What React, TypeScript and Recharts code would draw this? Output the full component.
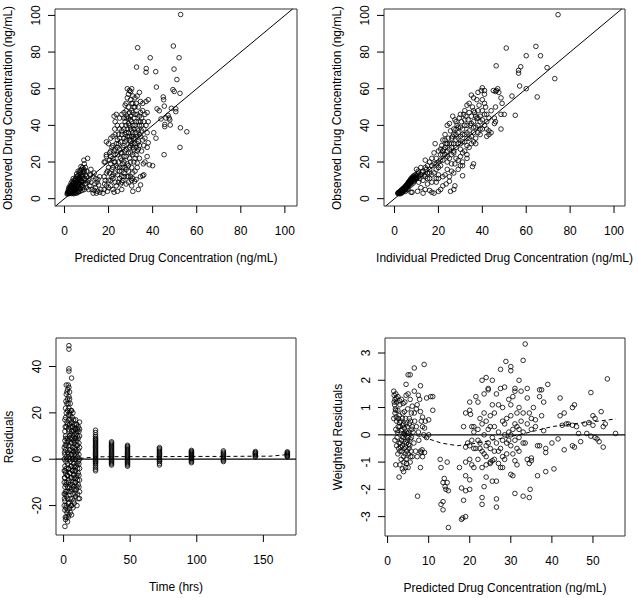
import React from "react";
import { ScatterChart, Scatter, XAxis, YAxis, ReferenceArea, ReferenceLine } from "recharts";

type Pt = [number, number];

// top left: population predicted vs observed
const predObs: Pt[] = [
  [52.7, 100.5], [33.2, 82.4], [49.4, 83.3], [38.9, 76.9], [52, 76.9], [32.7, 71.8], [37.1, 71], [37, 69],
  [41.4, 69.3], [49.7, 70.7], [51, 65], [41.7, 60.9], [49.2, 59.5], [49.8, 58.5], [52.4, 57.5], [44.8, 55.5],
  [45, 54], [45.3, 50.5], [48.5, 49.3], [50.5, 49], [50.5, 47.5], [47, 45.5], [47.5, 44], [46, 44], [43.8, 43.5],
  [45.5, 40.5], [45.5, 39.3], [48, 40.2], [47.8, 43], [52.6, 38.7], [55.5, 36.5], [52.4, 28], [45.2, 24],
  [40.5, 36], [41.5, 33], [42, 49], [43, 48], [40, 18], [38.5, 18.5], [37.5, 23], [36.5, 20], [35.8, 19],
  [37.5, 28], [38, 30.5], [35.5, 12.5], [36, 13], [34.5, 12], [33.5, 5], [34.5, 7.5], [31, 4], [31.8, 9.5],
  [32.5, 10.5], [30.5, 10], [33, 19.5], [34, 22],
  [1.5, 3], [1.8, 4], [2, 3.5], [2.2, 5], [2.5, 4.2], [2.6, 6], [2.8, 3.2], [3, 4.8], [3.1, 7], [3.3, 5.5],
  [3.5, 3.8], [3.6, 6.5], [3.8, 8], [4, 4.5], [4.1, 5.8], [4.3, 9], [4.5, 7], [4.6, 3.5], [4.8, 6], [5, 10],
  [5.2, 8], [5.3, 5], [5.5, 12], [5.7, 7.5], [5.9, 4], [6, 9.5], [6.2, 11], [6.4, 6.5], [6.6, 13], [6.8, 8.5],
  [7, 10.5], [7.2, 5.5], [7.4, 14], [7.6, 12], [7.8, 16], [8, 9], [8.2, 17], [8.5, 11], [8.8, 21], [9, 19],
  [9.5, 13], [10.5, 22], [2.3, 2.8], [3.9, 3], [5, 3.2], [6.5, 4], [7.5, 7], [8.5, 6], [9, 15], [9.6, 10],
  [10, 12], [11, 10], [11.5, 7], [12, 13], [12.5, 5], [13, 3], [13.5, 4.5], [13.8, 8], [14.2, 11], [14.8, 9],
  [15.5, 7.5], [16, 12], [16.5, 5], [12, 9], [13, 12], [14.5, 3],
  [1.2, 2.5], [1.4, 3.5], [1.6, 2.8], [1.9, 3], [2.1, 4.2], [2.4, 3.3], [2.7, 4.8], [2.9, 5.6], [3.2, 3.5],
  [3.4, 4.3], [3.7, 5], [3.9, 6], [4.2, 3.8], [4.4, 5.2], [4.7, 4.5], [4.9, 8], [5.1, 6.8], [5.4, 9], [5.6, 5.8],
  [5.8, 10.5], [6.1, 7], [6.3, 8.3], [6.5, 10], [6.7, 5.2], [6.9, 11.5], [7.1, 7.8], [7.3, 9.2], [7.7, 10],
  [7.9, 13], [8.1, 7.5], [8.3, 12.5], [8.7, 14.5], [9.2, 11], [3.5, 7.5], [4, 8.5], [4.5, 10], [5, 11], [6, 12.5],
  [6.8, 14.5], [7.2, 15.5], [2, 6], [2.5, 7], [3, 8.5], [3.5, 9.5], [4, 11], [5.5, 13.5], [6.2, 15], [7.5, 17.5],
  [8.8, 16], [9.5, 17], [10, 15], [1.8, 5], [2.8, 6.5], [3.3, 2.8], [4.2, 2.7], [5.5, 3], [6.2, 3.5], [7, 4],
  [8, 4.5], [9, 5], [10, 6], [11, 5], [9.5, 8], [10.5, 9], [11.5, 13], [12, 16], [13.5, 14], [14, 6], [15, 4],
  [16, 3.5], [15.2, 10.5],
  [17.5, 3], [18, 5], [18.5, 10], [19, 14], [18, 20], [19, 24], [19, 31], [20, 30],
  [18, 12], [18.5, 20], [19, 23], [19.5, 15], [20.5, 25], [21, 19], [21.5, 28], [18.2, 8], [20, 10], [21, 7],
  [22, 5], [22.5, 3.5], [19.5, 4], [20.5, 14], [21.5, 12], [22, 22], [22.5, 26], [21, 33], [22, 34], [22.5, 45],
  [23.5, 46], [23, 42], [22.8, 38], [23.5, 30], [24, 24], [24.5, 20], [24, 17], [23, 14], [24, 13], [25, 11],
  [24.5, 9], [23.5, 7], [25.5, 8], [26, 12], [26, 15], [26.5, 19], [25.5, 22], [25, 27], [25.5, 31], [26, 35],
  [26, 40], [27, 44], [27.5, 51], [28, 52], [28.5, 60], [29.5, 59], [30, 58.5], [30.5, 60], [29, 57], [28.5, 55],
  [30, 54], [31, 56], [32, 55], [33, 56], [34, 58], [34.5, 53], [33.5, 50], [32.5, 52], [31.5, 50], [30.5, 48],
  [29.5, 47], [28.5, 45], [27.5, 42], [27, 38], [27.5, 35], [28, 32], [27, 29], [27.5, 26], [28, 23], [27, 20],
  [26.5, 17], [27, 14], [26.5, 10], [28, 8], [28.5, 12], [29, 15], [29, 18], [29.5, 22], [30, 25], [29.5, 28],
  [30, 31], [30.5, 34], [29, 36], [30, 38], [31, 40], [30.5, 42], [31.5, 44], [32, 46], [31, 36], [31.5, 33],
  [32, 30], [32.5, 28], [33, 26], [31, 24], [32, 22], [31.5, 20], [30.5, 17], [31, 14], [30, 12], [29, 9],
  [30.5, 7], [32, 40], [33, 38], [33.5, 42], [34, 45], [34.5, 47], [35, 44], [34, 40], [35, 37], [34.5, 34],
  [35.5, 32], [34, 29], [35, 26], [36, 29], [36.5, 33], [36, 38], [36, 42], [35.5, 48], [35.5, 52], [36.5, 46],
  [37.5, 47], [37, 40], [37.5, 36], [38, 42], [37, 53], [38, 54], [33, 34], [33.5, 31], [32.5, 36], [24, 40],
  [23, 35], [25, 38], [26, 25], [24.5, 30], [25, 44], [26, 46], [28, 40], [29, 44], [29, 50], [31, 52], [33, 46],
  [23, 27], [22, 17], [21, 23], [20, 17], [27, 33], [28.5, 38], [28, 48],
  [20.5, 21], [21, 26], [21.5, 16], [22, 29], [22.5, 20], [23, 24], [23.5, 18], [24, 28], [24.5, 35], [25, 17],
  [25.5, 25], [26, 21], [26.5, 28], [27, 23], [27.5, 31], [28, 27], [28.5, 34], [29, 25], [29.5, 32], [30, 29],
  [30.5, 37], [31, 28], [31.5, 38], [32, 33], [32.5, 42], [33, 30], [33.5, 37], [34, 35], [34.5, 42], [35, 40],
  [29, 41], [30, 45], [30.5, 52], [31, 47], [32, 50], [28, 44], [27, 47], [26, 37], [25, 33], [24, 32], [23, 20],
  [22, 13], [21, 10], [20, 6], [19, 7], [25, 15], [26, 9], [27, 12], [28, 16], [29, 12], [31, 11], [32, 15],
  [33, 17], [30, 20], [28.5, 19], [27.5, 17], [26, 5], [24, 4], [23, 9], [22, 11], [29.5, 40], [30, 43], [31, 34],
  [30.5, 30], [31.5, 27], [32.5, 24], [33.5, 27], [28, 36], [29.5, 34],
];

// top right: individual predicted vs observed
const ipredObs: Pt[] = [
  [74.5, 100.4], [50.9, 82.2], [64.4, 83.1], [46.3, 72.5], [60, 78], [66.5, 78], [57.5, 72], [56.5, 70],
  [56.5, 68.5], [69.5, 71.5], [73, 65.5], [57, 61.5], [60, 60], [65, 55.5], [53.5, 56], [55, 45.5], [50, 46],
  [48.5, 46], [48.5, 38], [49, 52], [48.5, 55], [47.5, 58], [46.5, 59], [46, 58.5], [45, 59], [47, 60],
  [46, 50], [45.5, 41], [46, 42], [45.5, 44], [44, 36], [43, 37], [42, 34], [41.5, 50], [41, 57], [41, 59],
  [40, 60.5], [39.5, 59], [38, 58], [37.5, 54], [36, 55], [35, 56.5], [33, 51],
  [36, 19], [35.5, 17.5], [31, 12.5], [31, 18], [27, 5], [27.5, 7], [25.5, 4], [25, 9.5], [23.5, 8], [22, 7],
  [21, 5], [20, 4], [18, 3], [17, 3.5], [16, 4.5], [14, 5], [13, 3], [12, 6], [10.5, 4], [8, 3.5], [15, 8],
  [17, 9], [19, 11], [20, 13], [23, 13], [24, 16], [26, 15], [26, 19], [27.5, 19], [29, 21], [30, 23], [31, 20],
  [33, 22], [33, 24],
  [8, 10], [9, 12], [10, 11], [10, 16], [11, 14], [12, 13], [12, 17], [13, 15], [14, 21], [14, 12], [15, 18],
  [15, 14], [16, 20], [16, 16], [17, 22], [17, 13], [18, 19], [18, 25], [18.5, 30], [19, 16], [19, 22], [20, 20],
  [20, 26], [21, 24], [21, 18], [21.5, 29], [22, 21], [22, 32], [22.5, 27], [23, 35], [23, 24], [23.5, 30],
  [24, 40], [24, 26], [24.5, 33], [25, 41], [25, 22], [25.5, 37], [26, 30], [26, 28], [26.5, 45], [26.5, 34],
  [27, 38], [27, 25], [27.5, 43], [28, 32], [28, 28], [28.5, 40], [29, 36], [29, 30], [29.5, 44], [30, 34],
  [30, 27], [30.5, 42], [31, 38], [31, 31], [31.5, 46], [32, 40], [32, 35], [32.5, 45], [33, 36], [33, 29],
  [33.5, 43], [34, 47], [34, 33], [34.5, 40], [35, 45], [35, 30], [35.5, 50], [36, 42], [36, 36], [36.5, 47],
  [37, 30], [37.5, 44], [38, 48], [38, 40], [38.5, 51], [39, 45], [39, 38], [40, 48], [40, 43], [41, 52],
  [41, 40], [42, 46], [43, 35], [30, 18], [28, 22], [27, 26], [24, 20], [22, 12], [20, 11], [19, 9], [16, 11],
  [25, 12], [27, 14], [29, 16], [32, 26], [34, 28], [36, 31], [37, 33], [39, 35],
  [11, 9], [13, 10], [14, 17], [15, 11], [16, 14], [17, 18], [18, 14], [19, 19], [20, 17], [21, 21], [22, 26],
  [23, 28], [24, 23], [25, 30], [26, 33], [27, 30], [28, 35], [29, 33], [30, 39], [31, 35], [32, 43], [33, 40],
  [34, 37], [35, 41], [36, 48], [37, 39], [38, 44], [39, 42], [40, 54], [41, 46], [42, 42], [29, 39], [28, 42],
  [27, 35], [26, 24], [25, 27], [24, 30], [23, 32], [22, 24], [21, 27], [30, 30], [31, 25], [32, 31], [33, 33],
  [35, 34], [36, 39], [37, 45], [38, 36], [40, 38], [42, 38], [43, 44], [44, 48], [34, 52], [32, 48], [30, 46],
  [28, 38],
  [1.5, 3], [2, 3.2], [2.3, 3.5], [2.6, 4], [3, 3.8], [3.2, 4.5], [3.5, 5], [3.8, 4.6], [4, 5.5], [4.3, 6],
  [4.6, 5.8], [5, 6.5], [5.3, 7.2], [5.6, 7], [6, 8], [6.3, 8.5], [6.6, 9], [7, 9.5], [7.3, 10], [7.6, 10.5],
  [8, 11], [2.8, 2.8], [3.5, 3.2], [4.5, 4.3], [5.5, 5.3], [6.5, 6.5], [7.5, 7.5], [8.5, 8.5], [9, 9.5],
  [9.5, 10.5], [10, 12.5], [11, 12], [7.5, 3.5], [6, 5], [5, 4],
  [1.6, 2.8], [1.8, 3.4], [2.1, 3.1], [2.4, 3.9], [2.7, 3.3], [2.9, 4.3], [3.1, 3.4], [3.3, 4.9], [3.6, 4.1],
  [3.9, 5.3], [4.1, 4.4], [4.4, 5.5], [4.7, 6.4], [4.9, 5.1], [5.1, 7], [5.4, 6], [5.7, 7.8], [5.9, 6.7],
  [6.2, 8.8], [6.4, 7.3], [6.7, 9.5], [6.9, 8.2], [7.2, 10.5], [7.4, 8.8], [7.7, 11.2], [7.9, 9.4], [8.2, 11.8],
  [8.4, 10], [8.7, 12.4], [9.1, 11], [9.4, 13], [9.8, 11.8], [10.3, 13.5], [10.8, 15], [11.5, 11], [12.5, 14.5],
  [13.5, 13], [14.5, 16], [5, 5.8], [6, 7.2], [7, 8.3], [4, 4.8], [3, 4.1], [2.2, 2.7], [2.5, 3.6], [3.4, 3.9],
  [4.2, 5.1], [5.2, 6.4], [6.1, 7.6], [6.8, 8.8], [7.5, 9.9], [8, 10.5], [8.8, 11.4],
];

// bottom left: time vs residuals
const timeRes: Pt[] = [
  [0.5, -5], [0.5, -10], [0.5, -15], [0.5, 0], [0.5, -20], [0.5, 5],
  [1, -29], [1, -22], [1, -18], [1, -12], [1, -8], [1, -3], [1, 2], [1, 8], [1, 17], [1, 12],
  [1.5, -26], [1.5, -14], [1.5, -6], [1.5, 4], [1.5, 10], [1.5, 22], [1.5, 18],
  [2, -25], [2, -20], [2, -16], [2, -10], [2, -4], [2, 1], [2, 6], [2, 14], [2, 20], [2, 28], [2, 32],
  [3, -27], [3, -22], [3, -17], [3, -12], [3, -7], [3, -2], [3, 3], [3, 9], [3, 15], [3, 21], [3, 26], [3, 30],
  [4, 49], [4, 47.5], [4, 39], [4, 38], [4, -24], [4, -19], [4, -14], [4, -9], [4, -4], [4, 1], [4, 6], [4, 12],
  [4, 17], [4, 22], [4, 27], [4, 31],
  [5, -23], [5, -17], [5, -11], [5, -6], [5, -1], [5, 4], [5, 9], [5, 14], [5, 19], [5, 24],
  [6, 35], [6, -24], [6, -20], [6, -13], [6, -8], [6, -3], [6, 2], [6, 7], [6, 12], [6, 16], [6, 21],
  [7, -21], [7, -15], [7, -10], [7, -5], [7, 0], [7, 5], [7, 10], [7, 14], [7, 20],
  [8, -19], [8, -13], [8, -8], [8, -3], [8, 2], [8, 7], [8, 11], [8, 15],
  [9, -16], [9, -10], [9, -5], [9, 0], [9, 4], [9, 9], [9, 13], [9, 17],
  [10, -20], [10, -12], [10, -7], [10, -2], [10, 3], [10, 8], [10, 12], [10, 15],
  [11, -17], [11, -11], [11, -6], [11, -1], [11, 4], [11, 9], [11, 14],
  [12, -14], [12, -9], [12, -4], [12, 0], [12, 5], [12, 10], [12, 16],
  [0.75, -8], [0.75, -17], [0.75, 3], [1.25, -25], [1.25, -15], [1.25, -5], [1.25, 6], [1.25, 14], [1.75, -21],
  [1.75, -11], [1.75, -1], [1.75, 9], [1.75, 25], [2.5, -23], [2.5, -14], [2.5, -7], [2.5, 0], [2.5, 7],
  [2.5, 16], [2.5, 24], [2.5, 29], [3.5, -25], [3.5, -19], [3.5, -10], [3.5, -4], [3.5, 2], [3.5, 8], [3.5, 13],
  [3.5, 19], [3.5, 24], [3.5, 32], [4.5, -21], [4.5, -12], [4.5, -6], [4.5, 0], [4.5, 4], [4.5, 10], [4.5, 15],
  [4.5, 20], [4.5, 26], [4.5, 29], [5.5, -20], [5.5, -14], [5.5, -8], [5.5, -3], [5.5, 2], [5.5, 7], [5.5, 11],
  [5.5, 17], [5.5, 21], [6.5, -17], [6.5, -11], [6.5, -5], [6.5, 0], [6.5, 4], [6.5, 9], [6.5, 14], [6.5, 18],
  [7.5, -18], [7.5, -12], [7.5, -7], [7.5, -2], [7.5, 3], [7.5, 8], [7.5, 12], [7.5, 17], [8.5, -15],
  [8.5, -10], [8.5, -5], [8.5, 0], [8.5, 5], [8.5, 9], [8.5, 13], [9.5, -13], [9.5, -8], [9.5, -3], [9.5, 2],
  [9.5, 6], [9.5, 11], [9.5, 15], [10.5, -15], [10.5, -9], [10.5, -4], [10.5, 1], [10.5, 6], [10.5, 10],
  [10.5, 13], [11.5, -12], [11.5, -7], [11.5, -2], [11.5, 2], [11.5, 7], [11.5, 12], [12, -17], [12, 13],
  [24, -5], [24, -3.5], [24, -2], [24, -1], [24, 0], [24, 1], [24, 2], [24, 3], [24, 4], [24, 5], [24, 6],
  [24, 7], [24, 8], [24, 9], [24, 10.5], [24, 12.5], [24, -4.3], [24, -2.7], [24, -1.5], [24, -0.5], [24, 0.5],
  [24, 1.5], [24, 2.5], [24, 3.5], [24, 4.5], [24, 5.5], [24, 6.5], [24, 7.5], [24, 8.5], [24, 9.7], [24, 11.5],
  [36, -2.5], [36, -1.5], [36, -0.5], [36, 0.5], [36, 1.5], [36, 2.5], [36, 3.5], [36, 4.5], [36, 5.5],
  [36, 6.5], [36, 7.5], [36, -2], [36, -1], [36, 0], [36, 1], [36, 2], [36, 3], [36, 4], [36, 5], [36, 6], [36, 7],
  [48, -3], [48, -2], [48, -1], [48, 0], [48, 1], [48, 2], [48, 3], [48, 4], [48, 5], [48, 6], [48, -2.5],
  [48, -1.5], [48, -0.5], [48, 0.5], [48, 1.5], [48, 2.5], [48, 3.5], [48, 4.5], [48, 5.5],
  [72, -2.5], [72, -1], [72, 0], [72, 1], [72, 2], [72, 3], [72, 4], [72, 5], [72, -1.8], [72, -0.5], [72, 0.5],
  [72, 1.5], [72, 2.5], [72, 3.5], [72, 4.5],
  [96, -1.5], [96, -0.5], [96, 0.3], [96, 1], [96, 1.7], [96, 2.4], [96, 3], [96, 3.8], [96, -1], [96, 0],
  [96, 0.7], [96, 1.4], [96, 2], [96, 2.7], [96, 3.4],
  [120, -1], [120, 0], [120, 1], [120, 2], [120, 3], [120, 3.6], [120, -0.5], [120, 0.5], [120, 1.5], [120, 2.5],
  [144, 1], [144, 1.8], [144, 2.5], [144, 3.3], [144, 1.4], [144, 2.2], [144, 2.9],
  [168, 1], [168, 1.6], [168, 2.2], [168, 2.8], [168, 3.2], [168, 1.3], [168, 1.9], [168, 2.5],
];
const resSmooth: Pt[] = [
  [12, 0.3], [24, 1], [36, 1.1], [48, 1.1], [72, 1.1], [96, 1.2], [120, 1.2], [144, 1.3], [155, 1.3], [168, 2],
];

// bottom right: predicted vs weighted residuals
const predWres: Pt[] = [
  [33.5, 3.33], [33, 2.73], [28.8, 2.69], [30, 2.5], [30, 2.35], [27.5, 2.4], [8.9, 2.58], [6.5, 2.45],
  [5.5, 2.2], [5, 2.2], [4.5, 1.85], [8, 1.8], [24, 2.1], [23, 2], [25.5, 2], [32, 2], [39, 1.85], [53.5, 2.05],
  [49.5, 1.55], [37, 1.65], [34, 1.7], [31, 1.7], [28.5, 1.75], [24.5, 1.65], [21.5, 1.4], [10.5, 1.4],
  [9.5, 1.35], [20, 1.2], [22, 1.2],
  [1.5, 1.6], [1.6, 1.45], [1.8, 1.3], [2, 1.5], [2.2, 1.2], [1.7, 1.1], [2.5, 1.4], [1.5, 0.6], [1.8, 0.8],
  [2.2, 0.5], [2.5, 0.9], [2, 0.2], [2.3, -0.1], [2.6, 0.3], [2.8, 0.7], [3, 1.1], [3.2, 0.5], [3.4, -0.2],
  [3.5, 0.2], [3.7, 0.8], [3.9, 0.4], [4, -0.5], [4.2, 0], [4.4, 0.6], [4.6, -0.3], [4.8, 0.3], [5, -0.7],
  [5.2, 0.1], [5.4, -0.4], [5.6, 0.5], [5.8, -0.1], [6, 0.3], [3, -0.6], [3.3, -0.9], [3.6, -0.4], [4, -1],
  [4.3, -0.7], [4.5, -0.9], [2.5, -0.7], [2.8, -0.3], [3.8, -0.1], [4.8, -0.2], [5.2, -0.5], [2.2, -0.4],
  [1.8, -0.2], [2, 0.9], [3, 0.3], [4.2, 1.2], [4.5, 1.45], [5, 1.5], [5.5, 1.3], [3.8, 1.15], [5.8, 0.8],
  [6.2, 0.1], [6.5, 0.8], [7, 0.95], [7.2, 1.1], [7.5, 1.45], [7, 0.3], [7.5, 0.1], [8, 0.85], [8.5, 0.3],
  [9, 0.25], [10, 0.55], [11, 0.9], [11, 1.4], [6.8, -0.6], [7.2, -0.8], [8, -0.6], [8.2, -0.65],
  [8.4, -0.55], [6, -0.8], [5.5, -1], [5, -1.2], [4.6, -1.05], [3.6, -1.25], [7.3, -2.25], [2.8, -1.55],
  [2, -1.1], [3, -1.1], [8, -1.2], [9.5, -0.1], [8.8, 0], [10, 0],
  [1.6, 1.2], [1.9, 0.95], [2.1, 0.65], [2.4, 0.1], [2.7, -0.5], [2.9, 0.45], [3.1, -0.3], [3.3, 0.15],
  [3.5, -0.6], [3.7, 0.35], [3.9, -0.8], [4.1, 0.25], [4.3, -0.25], [4.5, 0.4], [4.7, -0.6], [4.9, 0.05],
  [5.1, -0.35], [5.3, 0.6], [5.5, -0.15], [5.7, -0.6], [5.9, 0.2], [4, 0.05], [3.6, -0.05], [4.6, 0.1],
  [5, -0.1], [4.4, -0.45], [3.2, -0.45], [2.6, 0.6], [2.1, 1.35], [2.9, 1.25], [3.4, 1.3], [3.6, 0.6],
  [4.1, 0.85], [4.9, 0.95], [5.3, 0.4], [6.4, -0.3], [6.6, 0.5], [7.6, -0.2], [8.2, 0.5], [9.2, 0.5],
  [3.9, -1.35], [4.4, -1.2], [5.6, -0.8], [6, 1.05], [6.5, 1.6], [7.8, 1.3], [8.5, 0.65], [9, -0.65], [8.5, -0.8],
  [12.8, -0.9], [13, -1.2], [13.5, -1.75], [13.8, -1.6], [14, -1.9], [14.2, -2], [14.5, -1.75], [14.8, -2.05],
  [13, -2.55], [13.5, -2.45], [13.5, -2.75], [14.8, -3.4], [14.5, -1],
  [17.5, -1.2], [18, -1.95], [18, -3.1], [18.3, -3.05], [19, -3], [18.5, -2.4], [19, -2.05], [20, -2],
  [19, -1.5], [20, -1.65], [19, -1], [20.5, -1.1], [19.5, -0.3], [18.5, 0.3], [19, 0.8], [20, 0.9],
  [20.2, 0.75], [21, 0.3], [21, -0.5], [22, -0.2], [22.5, -0.5],
  [23, -2.3], [23, -2.55], [23.5, -1.9], [24, -1.55], [25.5, -1.7], [26.5, -1.7], [26.5, -2.35], [26.5, -2.65],
  [24, -1.1], [25, -1], [25.5, -0.95], [26, -0.6], [23, -1.2], [23.5, -0.7], [24.5, -0.3], [25, 0.3],
  [25.5, 1.1], [24, 0.5], [23, 0.4], [23.5, 1.5],
  [31, -2.15], [33, -2.25], [34.5, -2.3], [34.7, -2], [30, -1.45], [30.5, -1.5], [31.5, -1.1], [31, -0.95],
  [28.5, -0.9], [27.5, -1.2], [28, -1.2], [27, -1.05],
  [34, 1.35], [34.5, 0.8], [35, 0.6], [35.5, 1], [36, 0.55], [36, 0.3], [36.5, -0.4], [37, -0.4], [37, 1.4],
  [37.5, 1.65], [38, 1.2], [37.5, 0.7], [38, 0.15], [38.5, -0.5], [38.5, -0.65], [36.5, -1.5], [38.5, -1.35],
  [40.5, -1.25], [35, -0.95], [35, -0.85], [34, -0.9], [34.5, -1.05],
  [40, -0.3], [41.5, -0.15], [42, 0.7], [42, 1.35], [42.5, 0.35], [43, 0.8], [43.5, 0.4], [43, -0.55],
  [44, 0.4], [45, 0.35], [45, 1], [45.5, 1.1], [45, -0.4], [45.5, -0.45], [46, 0.3], [46.5, 0.05], [47, -0.25],
  [48, 0.4], [48.5, 0.05], [49, 0.45], [49.5, -0.05], [50, 0.7], [50, 0.35], [50.5, 0.6], [50.5, -0.1],
  [51, -0.15], [51.5, -0.25], [52, 0.85], [52.5, -0.45], [52.5, 0.3], [53, 0.4], [55.5, 0.05],
  [20, -0.4], [20.5, -0.2], [21, 0.1], [21.5, -0.5], [22, 0.2], [22.5, -0.3], [23, -0.6], [23.5, 0], [24, -0.4],
  [24.5, 0.2], [25, -0.5], [25.5, -0.1], [26, 0.3], [26.5, -0.3], [27, 0.1], [27.5, -0.5], [28, -0.2],
  [28.5, 0.4], [29, -0.3], [29.5, 0.1], [30, -0.4], [30.5, 0.2], [31, -0.2], [31.5, 0.3], [32, -0.1],
  [32.5, 0.5], [33, 0.1], [33.5, -0.3], [34, 0.4], [35, 0.2], [29, 0.6], [30, 1.1], [30.5, 1.4], [31, 1.6],
  [29.5, 1.3], [28, 1], [27, 1.1], [26, 0.8], [25, 0.7], [32, 1], [33, 0.8], [32.5, 1.6], [31.5, 0.8], [30, 0.7],
  [29, -0.7], [28, -0.8], [30.5, -0.7], [31.5, -0.5], [32, -0.6], [33, -0.3], [27, -0.6], [26, -0.9],
  [25, -1.05], [24, -0.8], [22, -0.9], [21, -1.2], [20, -0.9], [19, -0.45], [20.5, 0.3], [22.5, 0.6],
  [23.5, 0.8], [24.5, 1.7], [27.5, 1.7], [28, 0.5], [26.5, 1.5], [28.5, 0], [29.5, -0.2], [30, 0], [31, 0.4],
  [32, 0.2],
];
const wresSmooth: Pt[] = [
  [2, 0.1], [5, 0.05], [9, -0.1], [13, -0.3], [17, -0.4], [22, -0.3], [27, -0.15], [32, 0], [36, 0.15],
  [40, 0.3], [45, 0.4], [50, 0.48], [55.6, 0.58],
];

const concTicks = [0, 20, 40, 60, 80, 100];
const timeTicks = [0, 50, 100, 150];
const resTicks = [-20, 0, 20, 40];
const wpredTicks = [0, 10, 20, 30, 40, 50];
const wresTicks = [-3, -2, -1, 0, 1, 2, 3];

const W = 319;
const H = 299;
const FONT = "'Liberation Sans', Arial, Helvetica, sans-serif";

const toXY = (pts: Pt[]) => pts.map(([x, y]) => ({ x, y }));

function Ring(props: any) {
  const { cx, cy } = props;
  if (cx == null || cy == null) return <g />;
  return <circle cx={cx} cy={cy} r={2.3} fill="none" stroke="#000" strokeWidth={0.8} />;
}

const renderXTick = (props: any) => {
  const { x, y, payload } = props;
  return (
    <text x={x} y={y + 17.5} textAnchor="middle" dominantBaseline="central" fontSize={12} fontFamily={FONT} fill="#000">
      {payload.value}
    </text>
  );
};

interface Box {
  l: number;
  r: number;
  t: number;
  b: number;
}

interface PanelProps {
  left: number;
  top: number;
  box: Box;
  xDomain: [number, number];
  yDomain: [number, number];
  xTicks: number[];
  yTicks: number[];
  points: Pt[];
  xLabel: string;
  yLabel: string;
  identity?: boolean;
  zeroLine?: boolean;
  smooth?: Pt[];
}

function Panel(p: PanelProps) {
  const { box } = p;
  const lo = Math.max(p.xDomain[0], p.yDomain[0]);
  const hi = Math.min(p.xDomain[1], p.yDomain[1]);
  const midX = box.l + (W - box.l - box.r) / 2;
  const midY = box.t + (H - box.t - box.b) / 2;
  const labelStyle: React.CSSProperties = {
    position: "absolute",
    fontFamily: FONT,
    fontSize: 12,
    lineHeight: 1,
    whiteSpace: "nowrap",
    color: "#000",
  };
  return (
    <div style={{ position: "absolute", left: p.left, top: p.top, width: W, height: H }}>
      <ScatterChart width={W} height={H} margin={{ top: box.t, right: box.r, left: 0, bottom: 0 }}>
        <XAxis
          type="number"
          dataKey="x"
          domain={p.xDomain}
          ticks={p.xTicks}
          interval={0}
          allowDataOverflow
          height={box.b}
          axisLine={false}
          tickLine={{ stroke: "#000" }}
          tickSize={7}
          tickMargin={0}
          tick={renderXTick}
        />
        {/* R draws y tick labels parallel to the axis */}
        <YAxis
          type="number"
          dataKey="y"
          domain={p.yDomain}
          ticks={p.yTicks}
          interval={0}
          allowDataOverflow
          width={box.l}
          axisLine={false}
          tickLine={{ stroke: "#000" }}
          tickSize={7}
          tickMargin={12.5}
          angle={-90}
          tick={{ fontSize: 12, fontFamily: FONT, fill: "#000", textAnchor: "middle" }}
        />
        {p.identity && (
          <ReferenceLine
            segment={[
              { x: lo, y: lo },
              { x: hi, y: hi },
            ]}
            stroke="#000"
            strokeWidth={1}
          />
        )}
        {p.zeroLine && <ReferenceLine y={0} stroke="#000" strokeWidth={1.2} />}
        <Scatter data={toXY(p.points)} shape={<Ring />} isAnimationActive={false} />
        {p.smooth && (
          <Scatter
            data={toXY(p.smooth)}
            line={{ stroke: "#000", strokeWidth: 1, strokeDasharray: "4 3" }}
            lineType="joint"
            shape={() => <g />}
            isAnimationActive={false}
          />
        )}
        <ReferenceArea
          x1={p.xDomain[0]}
          x2={p.xDomain[1]}
          y1={p.yDomain[0]}
          y2={p.yDomain[1]}
          fill="none"
          fillOpacity={0}
          stroke="#333"
          strokeWidth={1}
        />
      </ScatterChart>
      <div style={{ ...labelStyle, left: midX, top: H - box.b + 52, transform: "translate(-50%, -50%)" }}>{p.xLabel}</div>
      <div
        style={{
          ...labelStyle,
          left: box.l - 47,
          top: midY,
          transform: "translate(-50%, -50%) rotate(-90deg)",
        }}
      >
        {p.yLabel}
      </div>
    </div>
  );
}

export default function App() {
  return (
    <div style={{ position: "relative", width: 638, height: 598, background: "#fff", overflow: "hidden" }}>
      <style>{"body{margin:0}"}</style>
      <Panel
        left={0}
        top={0}
        box={{ l: 55, r: 22, t: 9, b: 93 }}
        xDomain={[-4.3, 105.5]}
        yDomain={[-4.0, 103.5]}
        xTicks={concTicks}
        yTicks={concTicks}
        points={predObs}
        xLabel="Predicted Drug Concentration (ng/mL)"
        yLabel="Observed Drug Concentration (ng/mL)"
        identity
      />
      <Panel
        left={319}
        top={0}
        box={{ l: 65, r: 13, t: 9, b: 93 }}
        xDomain={[-4.8, 105]}
        yDomain={[-4.0, 103.5]}
        xTicks={concTicks}
        yTicks={concTicks}
        points={ipredObs}
        xLabel="Individual Predicted Drug Concentration (ng/mL)"
        yLabel="Observed Drug Concentration (ng/mL)"
        identity
      />
      <Panel
        left={0}
        top={299}
        box={{ l: 56, r: 23, t: 39, b: 63 }}
        xDomain={[-5.7, 174.5]}
        yDomain={[-32.7, 52.3]}
        xTicks={timeTicks}
        yTicks={resTicks}
        points={timeRes}
        xLabel="Time (hrs)"
        yLabel="Residuals"
        zeroLine
        smooth={resSmooth}
      />
      <Panel
        left={319}
        top={299}
        box={{ l: 66, r: 13, t: 39, b: 62 }}
        xDomain={[-0.63, 57.8]}
        yDomain={[-3.71, 3.55]}
        xTicks={wpredTicks}
        yTicks={wresTicks}
        points={predWres}
        xLabel="Predicted Drug Concentration (ng/mL)"
        yLabel="Weighted Residuals"
        zeroLine
        smooth={wresSmooth}
      />
    </div>
  );
}
